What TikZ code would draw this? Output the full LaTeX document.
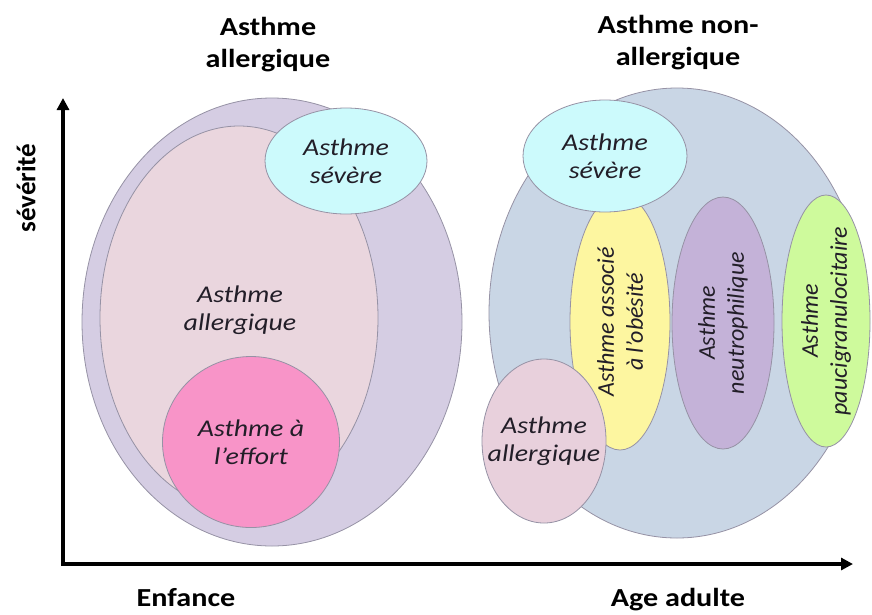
\documentclass[tikz,border=0pt]{standalone}
\usepackage{fontspec}
\setmainfont{Carlito}[FakeStretch=1.16]
\newfontfamily\rotfont{Carlito}
\usetikzlibrary{shapes.geometric,arrows.meta}
\definecolor{lavande}{RGB}{213,205,227}
\definecolor{rosepale}{RGB}{234,214,222}
\definecolor{roseeffort}{RGB}{248,148,200}
\definecolor{cyansev}{RGB}{204,250,252}
\definecolor{gris bleu}{RGB}{201,214,229}
\definecolor{jaune}{RGB}{253,246,160}
\definecolor{violet}{RGB}{196,178,216}
\definecolor{vert}{RGB}{206,250,156}
\definecolor{roseall}{RGB}{232,208,220}
\definecolor{bord}{RGB}{150,146,165}
\definecolor{texte}{RGB}{34,30,40}

\begin{document}
\begin{tikzpicture}[x=1pt,y=-1pt,
blob/.style={ellipse, draw=bord, line width=0.8pt, inner sep=0pt},
lbl/.style={font=\itshape\fontsize{24}{28}\selectfont, text=texte, align=center},
rlbl/.style={font=\rotfont\itshape\fontsize{24}{29}\selectfont, text=texte, align=center, rotate=90},
head/.style={font=\bfseries\fontsize{26}{32}\selectfont, align=center}]
\fill[white] (0,0) rectangle (872,614);
\useasboundingbox (0,0) rectangle (872,614);

% titres
\node[head] (t1) at (268,45) {Asthme\\allergique};
\node[head] (t2) at (678,43) {Asthme non-\\allergique};

% groupe allergique
\node[blob, fill=lavande, minimum width=380pt, minimum height=448pt] (A) at (272,322) {};
\node[blob, fill=rosepale, minimum width=278pt, minimum height=384pt] (B) at (239,318) {};
\node[lbl] (Btxt) at (240,310) {Asthme\\allergique};
\node[blob, fill=roseeffort, minimum width=177pt, minimum height=171pt] (E) at (251,442) {};
\node[lbl] (Etxt) at (E.center) {Asthme à\\l’effort};
\node[blob, fill=cyansev, minimum width=162pt, minimum height=106pt] (S1) at (346,161) {};
\node[lbl] (S1txt) at (S1.center) {Asthme\\sévère};

% groupe non-allergique
\node[blob, fill=gris bleu, minimum width=376pt, minimum height=450pt] (N) at (677,313) {};
\node[blob, fill=jaune, minimum width=100pt, minimum height=256pt] (O) at (620,322) {};
\node[rlbl] (Otxt) at (O.center) {Asthme associé\\à l’obésité};
\node[blob, fill=cyansev, minimum width=164pt, minimum height=112pt] (S2) at (605,156) {};
\node[lbl] (S2txt) at (S2.center) {Asthme\\sévère};
\node[blob, fill=violet, minimum width=102pt, minimum height=252pt] (P) at (723,323) {};
\node[rlbl] (Ptxt) at (P.center) {Asthme\\neutrophilique};
\node[blob, fill=vert, minimum width=88pt, minimum height=252pt] (G) at (826,321) {};
\node[rlbl] (Gtxt) at (G.center) {Asthme\\paucigranulocitaire};
\node[blob, fill=roseall, minimum width=124pt, minimum height=164pt] (R) at (544,441) {};
\node[lbl] (Rtxt) at (R.center) {Asthme\\allergique};

% axes
\coordinate (ytip) at (63,98);
\coordinate (xtip) at (853,564);
\draw[line width=4pt, {Triangle[length=12pt,width=12pt]}-{Triangle[length=12pt,width=12pt]}] (ytip) |- (xtip);
\node[head, font=\rotfont\bfseries\fontsize{27}{32}\selectfont, rotate=90] (sev) at (26,188) {sévérité};
\node[head, anchor=base] (enf) at (186,606) {Enfance};
\node[head, anchor=base] (adu) at (678,606) {Age adulte};
\end{tikzpicture}
\end{document}
